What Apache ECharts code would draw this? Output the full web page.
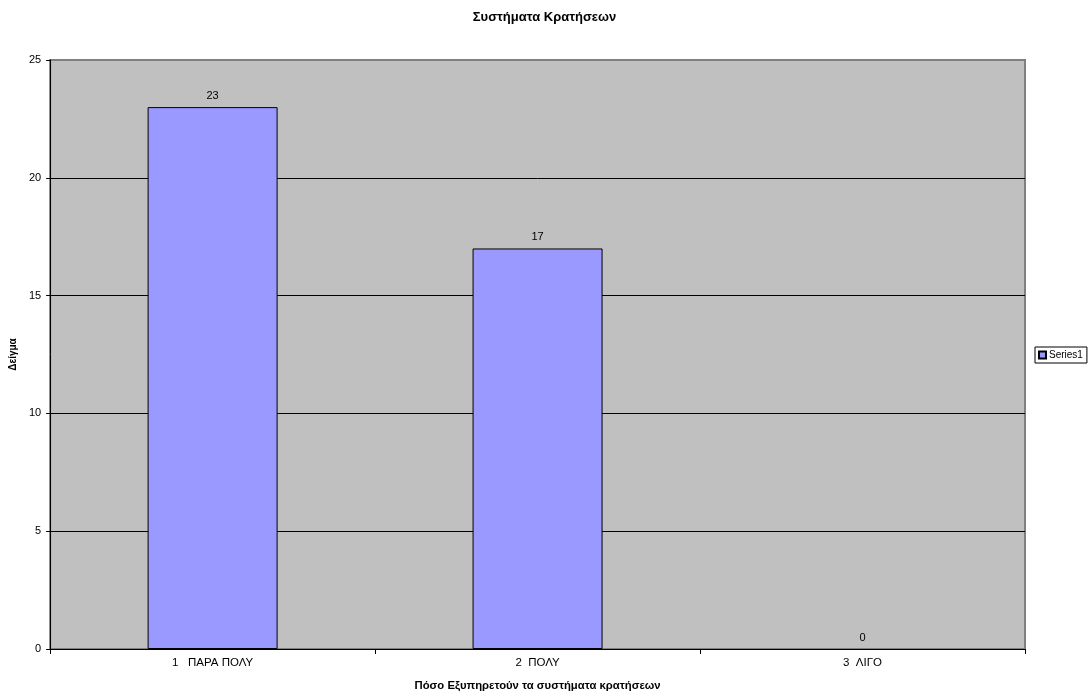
<!DOCTYPE html>
<html>
<head>
<meta charset="utf-8">
<script src="https://cdn.jsdelivr.net/npm/echarts@6/dist/echarts.min.js"></script>
<style>
  html, body { margin: 0; padding: 0; background: #ffffff; }
  #chart { width: 1089px; height: 696px; }
</style>
</head>
<body>
<div id="chart"></div>
<script>
// Booking systems survey: how well reservation systems serve (sample counts)
const categories = ['1   ΠΑΡΑ ΠΟΛΥ', '2  ΠΟΛΥ', '3  ΛΙΓΟ'];
const series1 = [23, 17, 0];
const yTicks = { min: 0, max: 25, interval: 5 };

const FONT = '"Liberation Sans", Arial, sans-serif';

// Zero-height bars get no outline so nothing is drawn on top of the axis
const barData = series1.map(v => v === 0
  ? { value: v, itemStyle: { borderWidth: 0 } }
  : v);

// Gridlines are black; the top one coincides with the grey plot border
const nLines = Math.round((yTicks.max - yTicks.min) / yTicks.interval) + 1;
const splitColors = Array.from({ length: nLines }, (_, i) => i === nLines - 1 ? '#808080' : '#000');

const chart = echarts.init(document.getElementById('chart'), null, { renderer: 'canvas' });

chart.setOption({
  animation: false,
  backgroundColor: '#ffffff',
  textStyle: { fontFamily: FONT },
  title: {
    text: 'Συστήματα Κρατήσεων',
    left: 'center',
    top: 6,
    textStyle: { fontFamily: FONT, fontSize: 13, fontWeight: 'bold', color: '#000' }
  },
  legend: {
    data: ['Series1'],
    left: 1035,
    top: 347,
    orient: 'vertical',
    icon: 'rect',
    itemWidth: 7,
    itemHeight: 7,
    itemGap: 0,
    padding: [3, 4, 3, 3],
    borderColor: '#000',
    borderWidth: 1,
    backgroundColor: '#fff',
    textStyle: { fontFamily: FONT, fontSize: 10, color: '#000', padding: [0, 0, 0, -2] }
  },
  grid: {
    left: 47,
    right: 64,
    top: 60,
    bottom: 46,
    show: true,
    backgroundColor: '#C0C0C0',
    borderColor: '#808080',
    borderWidth: 2,
    containLabel: false
  },
  xAxis: {
    type: 'category',
    data: categories,
    boundaryGap: true,
    name: 'Πόσο Εξυπηρετούν τα συστήματα κρατήσεων',
    nameLocation: 'middle',
    nameGap: 31,
    nameTextStyle: { fontFamily: FONT, fontSize: 11.3, fontWeight: 'bold', color: '#000' },
    axisLine: { show: true, lineStyle: { color: '#000', width: 1 } },
    axisTick: { show: true, alignWithLabel: false, length: 5, lineStyle: { color: '#000' } },
    axisLabel: { fontFamily: FONT, fontSize: 11.5, color: '#000', margin: 8 },
    splitLine: { show: false }
  },
  yAxis: {
    type: 'value',
    min: yTicks.min,
    max: yTicks.max,
    interval: yTicks.interval,
    name: 'Δείγμα',
    nameLocation: 'middle',
    nameGap: 30,
    nameRotate: 90,
    nameTextStyle: { fontFamily: FONT, fontSize: 10, fontWeight: 'bold', color: '#000' },
    axisLine: { show: true, lineStyle: { color: '#000', width: 1 } },
    axisTick: { show: true, length: 4, lineStyle: { color: '#000' } },
    axisLabel: { fontFamily: FONT, fontSize: 11, color: '#000', margin: 9 },
    splitLine: { show: true, lineStyle: { color: splitColors, width: 1 } }
  },
  series: [{
    name: 'Series1',
    type: 'bar',
    data: barData,
    barCategoryGap: '60%',
    itemStyle: { color: '#9999FF', borderColor: '#000', borderWidth: 1 },
    label: {
      show: true,
      position: 'top',
      distance: 6,
      fontFamily: FONT,
      fontSize: 11,
      color: '#000'
    }
  }]
});
</script>
</body>
</html>
